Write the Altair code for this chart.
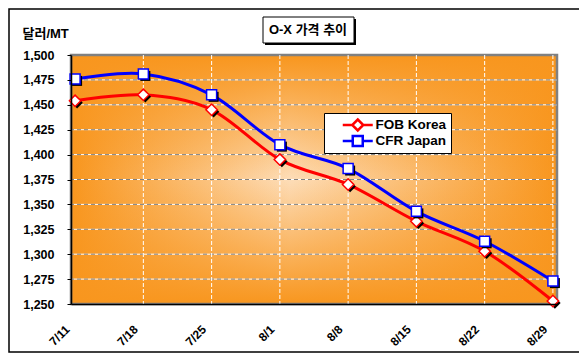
import json
import altair as alt
import pandas as pd

# ---- data ----
dates = ["7/11", "7/18", "7/25", "8/1", "8/8", "8/15", "8/22", "8/29"]
fob_korea = [1454, 1460, 1445, 1395, 1370, 1333, 1303, 1253]
cfr_japan = [1476, 1481, 1460, 1410, 1386, 1343, 1313, 1273]
series_names = ["FOB Korea", "CFR Japan"]
series_colors = ["#FF0000", "#0000FF"]
series_shapes = ["diamond", "square"]
y_ticks = list(range(1250, 1501, 25))
chart_title = "O-X 가격 추이"
y_title = "달러/MT"

rows = []
for i, d in enumerate(dates):
    rows.append({"idx": i, "date": d, "series": series_names[0], "value": fob_korea[i]})
    rows.append({"idx": i, "date": d, "series": series_names[1], "value": cfr_japan[i]})
df = pd.DataFrame(rows)

W, H = 486, 249
FONT = "Liberation Sans, Arial, Noto Sans CJK KR, sans-serif"
EDGE = "#F8961E"
EDGE0 = "rgba(248,150,30,0)"
CENTER = "#FDDDB8"

xscale = alt.Scale(domain=[-0.06, len(dates) - 1 + 0.06], nice=False, zero=False)
yscale = alt.Scale(domain=[y_ticks[0], y_ticks[-1]], nice=False, zero=False)

x_axis = alt.Axis(
    values=list(range(len(dates))),
    labelExpr=f"{json.dumps(dates)}[datum.value]",
    labelAngle=-45, labelAlign="right", labelBaseline="middle",
    labelPadding=23, labelOffset=-8, labelOverlap=False,
    labelFont=FONT, labelFontSize=12, labelFontWeight="bold", labelColor="black",
    ticks=False, grid=False, domainColor="black", domainWidth=1.5,
    title=None, zindex=1,
)
y_axis = alt.Axis(
    values=y_ticks, format=",d",
    labelFont=FONT, labelFontSize=12.5, labelFontWeight="bold", labelColor="black",
    labelPadding=13, tickSize=4, tickColor="black", tickWidth=1,
    domainColor="black", domainWidth=1.5, grid=False,
    title=y_title, titleAngle=0, titleAlign="left", titleBaseline="middle",
    titleX=-49, titleY=-22, titleFont=FONT, titleFontSize=13,
    titleFontWeight="bold", titleColor="black", zindex=1,
)

X = alt.X("idx:Q", scale=xscale, axis=x_axis)
Y = alt.Y("value:Q", scale=yscale, axis=y_axis)

one = pd.DataFrame({"a": [0]})

# outer frame of the whole chart
frame = alt.Chart(one).mark_rect(fill="white", stroke="black", strokeWidth=1.5).encode(
    x=alt.value(-62), x2=alt.value(W + 25), y=alt.value(-46), y2=alt.value(H + 48)
)

grad_h = alt.Gradient(
    gradient="linear", x1=0, x2=1, y1=0, y2=0,
    stops=[alt.GradientStop(offset=0, color=EDGE),
           alt.GradientStop(offset=0.45, color=CENTER),
           alt.GradientStop(offset=1, color=EDGE)],
)
grad_v = alt.Gradient(
    gradient="linear", x1=0, x2=0, y1=0, y2=1,
    stops=[alt.GradientStop(offset=0, color=EDGE),
           alt.GradientStop(offset=0.5, color=EDGE0),
           alt.GradientStop(offset=1, color=EDGE)],
)
bg1 = alt.Chart(one).mark_rect(fill=grad_h).encode(
    x=alt.value(0), x2=alt.value(W), y=alt.value(0), y2=alt.value(H)
)
bg2 = alt.Chart(one).mark_rect(fill=grad_v, stroke="#808080", strokeWidth=2.5).encode(
    x=alt.value(0), x2=alt.value(W), y=alt.value(0), y2=alt.value(H)
)

ygrid_df = pd.DataFrame({"value": y_ticks[1:-1]})
ygrid_w = alt.Chart(ygrid_df).mark_rule(color="white", strokeWidth=1).encode(y=Y)
ygrid_g = alt.Chart(ygrid_df).mark_rule(color="#808080", strokeWidth=1, strokeDash=[4, 3]).encode(y=Y)
xgrid_df = pd.DataFrame({"idx": list(range(1, len(dates)))})
xgrid = alt.Chart(xgrid_df).mark_rule(color="white", strokeWidth=1, strokeDash=[4, 2]).encode(x=X)

lines = alt.Chart(df).mark_line(interpolate="cardinal", strokeWidth=3).encode(
    x=X, y=Y,
    stroke=alt.Stroke("series:N", scale=alt.Scale(domain=series_names, range=series_colors), legend=None),
)

marker_layers = []
for name, shape, color in zip(series_names, series_shapes, series_colors):
    size = 130 if shape == "diamond" else 100
    base = alt.Chart(df).transform_filter(alt.datum.series == name)
    marker_layers.append(
        base.mark_point(shape=shape, filled=True, color="black", size=size,
                        xOffset=2, yOffset=2, opacity=1).encode(x=X, y=Y)
    )
    marker_layers.append(
        base.mark_point(shape=shape, filled=True, fill="white", stroke=color,
                        strokeWidth=1.5, size=size, opacity=1).encode(x=X, y=Y)
    )

# legend symbols: line with a marker in the middle (unit = 5 px at symbolSize 100)
path_d = "M-3,0L-1.1,0M1.1,0L3,0M0,-1.1L1.1,0L0,1.1L-1.1,0Z"
path_s = "M-3,0L-1,0M1,0L3,0M-1,-1L1,-1L1,1L-1,1Z"
leg = alt.Legend(
    title=None, orient="none", legendX=253, legendY=58,
    fillColor="white", strokeColor="black", padding=4, clipHeight=16,
    symbolSize=100, symbolStrokeWidth=2.5, symbolOpacity=1, symbolOffset=23,
    labelFont=FONT, labelFontSize=13.5, labelFontWeight="bold", labelColor="black",
    labelOffset=11, rowPadding=0,
)
legend_layer = alt.Chart(df).mark_point(size=1, strokeWidth=0.01).encode(
    x=X, y=Y,
    color=alt.Color("series:N", scale=alt.Scale(domain=series_names, range=series_colors), legend=leg),
    shape=alt.Shape("series:N", scale=alt.Scale(domain=series_names, range=[path_d, path_s]), legend=leg),
)

# boxed title
tbox_shadow = alt.Chart(one).mark_rect(fill="black").encode(
    x=alt.value(194), x2=alt.value(285), y=alt.value(-36), y2=alt.value(-10)
)
tbox = alt.Chart(one).mark_rect(fill="white", stroke="black", strokeWidth=1).encode(
    x=alt.value(192), x2=alt.value(283), y=alt.value(-38), y2=alt.value(-12)
)
ttext = alt.Chart(one).mark_text(
    text=chart_title, font=FONT, fontSize=13, fontWeight="bold", color="black",
    align="center", baseline="middle"
).encode(x=alt.value(237), y=alt.value(-25))

chart = alt.layer(
    frame, bg1, bg2, ygrid_w, ygrid_g, xgrid, legend_layer, lines, *marker_layers,
    tbox_shadow, tbox, ttext,
).properties(
    width=W, height=H,
    padding={"left": 63, "top": 47, "right": 22, "bottom": 50},
    autosize=alt.AutoSizeParams(type="none"),
    background="white",
).configure_view(stroke=None)

chart.save("out.html", embed_options={"renderer": "svg", "actions": False})
